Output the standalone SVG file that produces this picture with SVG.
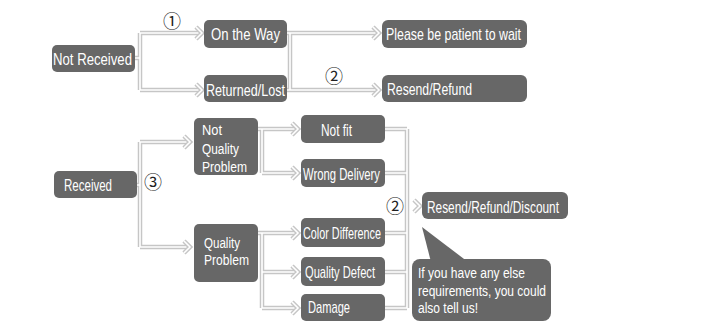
<svg xmlns="http://www.w3.org/2000/svg" width="722" height="322" viewBox="0 0 722 322">
<style>
.bx{fill:#676767}
.t{font-family:"Liberation Sans",Arial,sans-serif;font-size:17px;fill:#ffffff}
.s{font-size:15.5px}
.n{font-family:"Noto Sans CJK SC","DejaVu Sans",sans-serif;font-size:18px;fill:#222;text-anchor:middle}
.lo{fill:none;stroke:#c6c6c6;stroke-width:4.5;stroke-linejoin:miter}
.li{fill:none;stroke:#ffffff;stroke-width:1.6;stroke-linejoin:miter}
</style>
<defs>
<path id="conn" d="M135,58H140 M140,33V90 M140,33H199 M140,90H199 M287,33H376 M290,33V90 M287,90H376
M137,185H140 M140,142V247 M140,142H187 M140,247H187
M258,129H295 M262,129V173 M262,173H295
M258,233H295 M262,233V308 M262,272H295 M262,308H295
M385,129H407 M385,173H407 M385,233H407 M385,272H407 M385,308H407 M407,129V308"/>
<path id="chev" d="M-6,-6L0,0L-6,6"/>
</defs>
<rect width="722" height="322" fill="#ffffff"/>
<g id="connectors">
<use href="#conn" class="lo"/>
<use href="#conn" class="li"/>
<g class="lo">
<use href="#chev" x="202" y="33"/><use href="#chev" x="202" y="90"/>
<use href="#chev" x="379" y="33"/><use href="#chev" x="379" y="90"/>
<use href="#chev" x="190" y="142"/><use href="#chev" x="190" y="247"/>
<use href="#chev" x="298" y="129"/><use href="#chev" x="298" y="173"/>
<use href="#chev" x="298" y="233"/><use href="#chev" x="298" y="272"/><use href="#chev" x="298" y="308"/>
<use href="#chev" x="420" y="206"/>
</g>
<g class="li">
<use href="#chev" x="202" y="33"/><use href="#chev" x="202" y="90"/>
<use href="#chev" x="379" y="33"/><use href="#chev" x="379" y="90"/>
<use href="#chev" x="190" y="142"/><use href="#chev" x="190" y="247"/>
<use href="#chev" x="298" y="129"/><use href="#chev" x="298" y="173"/>
<use href="#chev" x="298" y="233"/><use href="#chev" x="298" y="272"/><use href="#chev" x="298" y="308"/>
<use href="#chev" x="420" y="206"/>
</g>
<text class="n" x="172" y="28">①</text>
<text class="n" x="334" y="83">②</text>
<text class="n" x="153" y="189">③</text>
<text class="n" x="395" y="213">②</text>
</g>
<g id="not-received"><rect class="bx" x="52" y="45" width="83" height="27" rx="5"/><text class="t" x="53" y="65" textLength="79" lengthAdjust="spacingAndGlyphs">Not Received</text></g>
<g id="on-the-way"><rect class="bx" x="204" y="20" width="83" height="28" rx="5"/><text class="t" x="211" y="40" font-size="18" textLength="69" lengthAdjust="spacingAndGlyphs">On the Way</text></g>
<g id="returned-lost"><rect class="bx" x="204" y="75" width="83" height="27" rx="5"/><text class="t" x="206" y="96" textLength="79" lengthAdjust="spacingAndGlyphs">Returned/Lost</text></g>
<g id="patient"><rect class="bx" x="382" y="20" width="145" height="28" rx="6"/><text class="t" x="386" y="40" textLength="135" lengthAdjust="spacingAndGlyphs">Please be patient to wait</text></g>
<g id="resend-refund"><rect class="bx" x="382" y="75" width="145" height="27" rx="6"/><text class="t" x="387" y="95" textLength="85" lengthAdjust="spacingAndGlyphs">Resend/Refund</text></g>
<g id="received"><rect class="bx" x="54" y="171" width="83" height="27" rx="5"/><text class="t" x="64" y="191" textLength="48" lengthAdjust="spacingAndGlyphs">Received</text></g>
<g id="not-quality"><rect class="bx" x="194" y="118" width="64" height="57" rx="5"/>
<text class="t s" x="202" y="135" textLength="20" lengthAdjust="spacingAndGlyphs">Not</text>
<text class="t s" x="202" y="154" textLength="37" lengthAdjust="spacingAndGlyphs">Quality</text>
<text class="t s" x="202" y="172" textLength="45" lengthAdjust="spacingAndGlyphs">Problem</text></g>
<g id="quality"><rect class="bx" x="194" y="224" width="64" height="58" rx="5"/>
<text class="t s" x="204" y="248" textLength="36" lengthAdjust="spacingAndGlyphs">Quality</text>
<text class="t s" x="204" y="265" textLength="45" lengthAdjust="spacingAndGlyphs">Problem</text></g>
<g id="not-fit"><rect class="bx" x="301" y="115" width="84" height="28" rx="5"/><text class="t" x="321" y="136" textLength="31" lengthAdjust="spacingAndGlyphs">Not fit</text></g>
<g id="wrong-delivery"><rect class="bx" x="301" y="159" width="84" height="28" rx="5"/><text class="t" x="303" y="180" textLength="77" lengthAdjust="spacingAndGlyphs">Wrong Delivery</text></g>
<g id="color-difference"><rect class="bx" x="301" y="218" width="84" height="29" rx="5"/><text class="t" x="303" y="239" textLength="78" lengthAdjust="spacingAndGlyphs">Color Difference</text></g>
<g id="quality-defect"><rect class="bx" x="301" y="257" width="84" height="29" rx="5"/><text class="t" x="305" y="278" textLength="70" lengthAdjust="spacingAndGlyphs">Quality Defect</text></g>
<g id="damage"><rect class="bx" x="301" y="294" width="84" height="27" rx="5"/><text class="t" x="308" y="313" textLength="42" lengthAdjust="spacingAndGlyphs">Damage</text></g>
<g id="resend-refund-discount"><rect class="bx" x="422" y="192" width="146" height="27" rx="6"/><text class="t" x="427" y="213" textLength="132" lengthAdjust="spacingAndGlyphs">Resend/Refund/Discount</text></g>
<g id="bubble"><rect class="bx" x="412" y="259" width="139" height="62" rx="8"/><polygon class="bx" points="422,227 431,262 468,262"/>
<text class="t s" x="418" y="278" textLength="107" lengthAdjust="spacingAndGlyphs">If you have any else</text>
<text class="t s" x="418" y="296" textLength="128" lengthAdjust="spacingAndGlyphs">requirements, you could</text>
<text class="t s" x="418" y="313" textLength="60" lengthAdjust="spacingAndGlyphs">also tell us!</text></g>
</svg>
